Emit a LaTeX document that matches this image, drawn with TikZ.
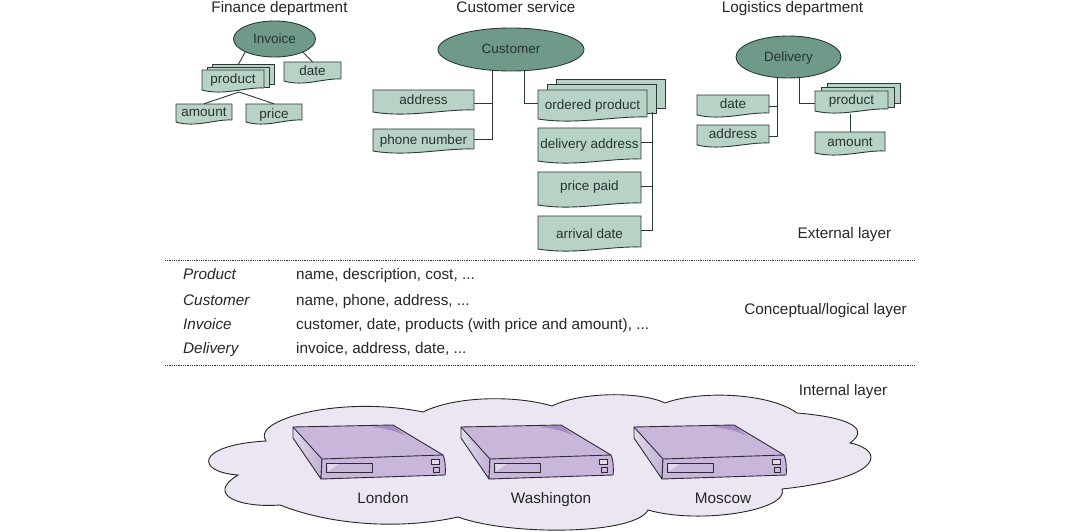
\documentclass[tikz,border=0pt]{standalone}
\usepackage{fontspec}
\setmainfont{Liberation Sans}
\usetikzlibrary{shapes.geometric}
\definecolor{entity}{HTML}{6F9A8A}
\definecolor{attr}{HTML}{B8D2C5}
\definecolor{ink}{HTML}{2B3A36}
\definecolor{cloudfill}{HTML}{EBE6F2}
\definecolor{srvtop}{HTML}{C8B7DA}
\definecolor{srvdark}{HTML}{A58EC2}
\definecolor{srvlight}{HTML}{E2DAEC}
\definecolor{srvline}{HTML}{2F2A38}
\tikzset{
  entity/.style={ellipse,draw=ink,fill=entity,line width=0.9pt,inner sep=0pt,text=ink!90!black,text height=9pt,text depth=0pt,font=\fontsize{13.5}{16}\selectfont},
  doctext/.style={inner sep=0pt,text=ink!90!black,text height=9pt,text depth=0pt,font=\fontsize{13.5}{16}\selectfont},
  docline/.style={draw=ink,fill=attr,line width=0.9pt},
  conn/.style={draw=ink,line width=0.9pt},
  label/.style={inner sep=0pt,text=black!85,text height=10pt,text depth=0pt,font=\fontsize{15.3}{18}\selectfont},
  rowhead/.style={label,anchor=west,font=\fontsize{15.3}{18}\itshape\selectfont},
  rowtext/.style={label,anchor=west},
  layerline/.style={densely dotted,line width=0.8pt,draw=black!80},
  srvface/.style={draw=srvline,line width=0.9pt,line join=round},
  pics/server/.style={code={
    \fill[srvtop] (0,0) -- (100,-2) -- (150,28) -- (29,32) -- cycle;
    \fill[srvdark] (77,0) -- (100,-2) -- (114,10) .. controls (105,4) and (90,1) .. (77,0) -- cycle;
    \draw[srvface,left color=srvlight,right color=srvdark!70] (0,0) -- (29,32) -- (28,52) -- (0,11) -- cycle;
    \draw[srvface,fill=srvtop] (29,32) -- (150,28) .. controls (152,32) and (153,42) .. (152,48) -- (28,52) -- cycle;
    \draw[srvface] (0,0) -- (100,-2) -- (150,28);
    \draw[srvline,line width=0.7pt,fill=srvtop] (33,36) rectangle (79,45);
    \fill[srvlight] (34,37) -- (46,37) -- (35,44) -- cycle;
    \draw[srvline,line width=0.7pt,fill=srvlight] (138,32) rectangle (146,37);
    \draw[srvline,line width=0.7pt,fill=srvdark!60] (140,40) rectangle (146,45);
  }}
}
% name, left, top, width, height, text
\newcommand{\docbox}[6]{
  \draw[docline,shift={(#2,#3)}] (0,0) -- (#4,0) -- (#4,#5-5) .. controls (0.7*#4,#5-6) and (0.35*#4,#5+3) .. (0,#5-3) -- cycle;
  \node[doctext,minimum width=#4pt,minimum height=#5pt-4pt] (#1) at (#2+0.5*#4,#3+0.5*#5-2) {#6};
}
% name, left, top, width, height, step, text
\newcommand{\stackbox}[7]{
  \draw[docline] (#2+2*#6,#3-0.6*#6-0.6*#6) rectangle ++(#4,#5-3);
  \draw[docline] (#2+#6,#3-0.6*#6) rectangle ++(#4,#5-3);
  \docbox{#1}{#2}{#3}{#4}{#5}{#7}
}
\begin{document}
\begin{tikzpicture}[x=1pt,y=-1pt]
  \useasboundingbox (0,0) rectangle (1080,532);
  % external layer
  \node[label] (fin) at (279.5,7.5) {Finance department}; \node[label] (cus) at (516,7.5) {Customer service}; \node[label] (log) at (792.5,7.5) {Logistics department};

  \node[entity,minimum width=82pt,minimum height=36pt] (Invoice) at (274.5,39) {Invoice};
  \stackbox{iproduct}{202}{70}{62}{23}{5}{product}
  \docbox{idate}{284}{62}{57}{22}{date}
  \docbox{iamount}{176}{104}{56}{21}{amount}
  \docbox{iprice}{246}{104}{56}{21}{\raisebox{-2pt}{price}}
  \draw[conn] (Invoice.204) -- (238,65); \draw[conn] (Invoice.335) -- (idate.north);
  \coordinate (ifork) at (239,92);
  \draw[conn] (ifork) -- (iamount.north); \draw[conn] (ifork) -- (iprice.north);

  \node[entity,minimum width=146pt,minimum height=43pt] (Customer) at (511,49.5) {Customer};
  \docbox{caddress}{373}{90}{101}{25}{address}
  \docbox{cphone}{373}{129}{101}{25}{\raisebox{-1pt}{phone number}}
  \stackbox{cordered}{538}{90}{109}{32}{9}{\raisebox{-1pt}{ordered product}}
  \docbox{cdelivery}{538}{128}{103}{36}{delivery address}
  \docbox{cprice}{538}{172}{103}{36}{\raisebox{2pt}{price paid}}
  \docbox{carrival}{538}{216}{103}{36}{\raisebox{-2pt}{arrival date}}
  \coordinate (ctrunk) at (652,112);
  \draw[conn] (Customer.229) |- ([yshift=-2.5pt]caddress.east); \draw[conn] (Customer.229) |- (cphone.east);
  \draw[conn] (Customer.301) |- (538,103);
  \draw[conn] (ctrunk) |- ([yshift=2pt]carrival.east);
  \draw[conn] (cdelivery.east) ++(0,-2) -| (ctrunk); \draw[conn] ([yshift=2pt]cprice.east) -- ++(11,0);

  \node[entity,minimum width=105pt,minimum height=42pt] (Delivery) at (788.5,57) {Delivery};
  \docbox{ddate}{697}{95}{72}{23}{date}
  \docbox{daddress}{697}{125}{72}{23}{address}
  \stackbox{dproduct}{815}{91}{73}{23}{6}{product}
  \docbox{damount}{815}{132}{70}{24}{amount}
  \draw[conn] (Delivery.243) |- ([yshift=-2pt]ddate.east); \draw[conn] (Delivery.243) |- ([yshift=-2pt]daddress.east);
  \draw[conn] (Delivery.297) |- (815,103);
  \draw[conn] (850,114) -- (850,132);

  \node[label] (ext) at (844.5,234) {External layer};
  \coordinate (l1a) at (165,260); \coordinate (l1b) at (915,260); \coordinate (l2a) at (165,365); \coordinate (l2b) at (915,365);
  \draw[layerline] (l1a) -- (l1b); \draw[layerline] (l2a) -- (l2b);

  % conceptual layer
  \node[rowhead] (rp) at (183,274) {Product}; \node[rowtext] (tp) at (296,274) {name, description, cost, ...};
  \node[rowhead] (rc) at (183,300) {Customer}; \node[rowtext] (tc) at (296,300) {name, phone, address, ...};
  \node[rowhead] (ri) at (183,324) {Invoice}; \node[rowtext] (ti) at (296,324) {customer, date, products (with price and amount), ...};
  \node[rowhead] (rd) at (183,348) {Delivery}; \node[rowtext] (td) at (296,348) {invoice, address, date, ...};
  \node[label] (con) at (825.5,309) {Conceptual/logical layer};

  % internal layer
  \node[label] (int) at (843,390) {Internal layer};
  \draw[draw=black!85,fill=cloudfill,line width=0.9pt] (423,412)
    .. controls (455,396) and (515,395) .. (552,406)
    .. controls (580,392) and (640,391) .. (665,403)
    .. controls (700,390) and (770,393) .. (797,413)
    .. controls (835,416) and (875,425) .. (850,443)
    .. controls (885,450) and (885,478) .. (782,489)
    .. controls (790,510) and (700,525) .. (648,510)
    .. controls (635,535) and (510,536) .. (458,517)
    .. controls (400,530) and (330,525) .. (280,505)
    .. controls (240,508) and (205,495) .. (238,475)
    .. controls (195,472) and (195,445) .. (266,441)
    .. controls (250,420) and (340,395) .. (423,412) -- cycle;
  \pic at (293,427) {server}; \pic at (461,427) {server}; \pic at (634,427) {server};
  \node[label] (lon) at (383,498) {London}; \node[label] (was) at (551,498) {Washington}; \node[label] (mos) at (723,498) {Moscow};
\end{tikzpicture}
\end{document}
